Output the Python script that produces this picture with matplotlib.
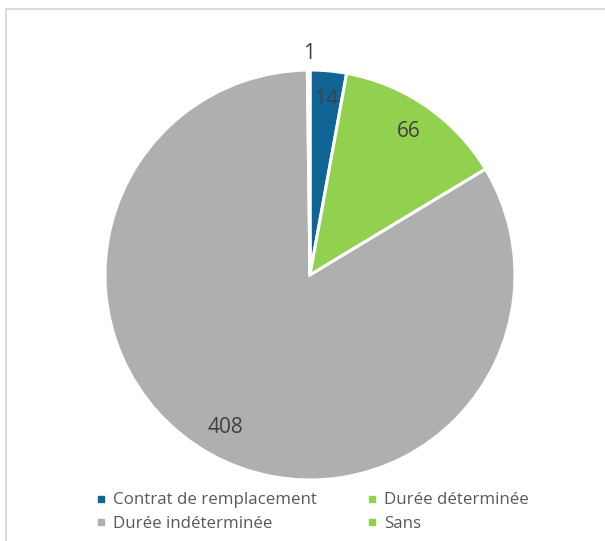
import matplotlib
matplotlib.use("Agg")
import matplotlib.pyplot as plt
from matplotlib.lines import Line2D
from matplotlib.patches import Rectangle
import numpy as np

categories = ["Contrat de remplacement", "Durée déterminée", "Durée indéterminée", "Sans"]
values = [14, 66, 408, 1]
colors = ["#106496", "#92D050", "#AFAFAF", "#92D050"]
label_dist = [0.86, 0.85, 0.85, 1.08]

plt.rcParams["font.family"] = ["Open Sans", "DejaVu Sans"]

W, H = 605, 541
fig = plt.figure(figsize=(W / 100, H / 100), dpi=100)

# chart frame (light gray border, open at right/bottom)
fig.add_artist(Rectangle((6 / W, -0.05), 1.1, (H - 9) / H + 0.05, transform=fig.transFigure,
                         fill=False, edgecolor="#D9D9D9", linewidth=1.3))

cx, cy, r = 310, 275, 205
ax = fig.add_axes([(cx - r) / W, (H - cy - r) / H, 2 * r / W, 2 * r / H])
wedges, _ = ax.pie(values, colors=colors, startangle=90, counterclock=False,
                   radius=1, wedgeprops=dict(edgecolor="white", linewidth=2.2))
ax.set_xlim(-1, 1)
ax.set_ylim(-1, 1)
ax.set_aspect("equal")
ax.axis("off")

for w, v, d in zip(wedges, values, label_dist):
    ang = np.deg2rad((w.theta1 + w.theta2) / 2)
    ax.text(d * np.cos(ang), d * np.sin(ang), str(v), ha="center", va="center",
            fontsize=15, color="#404040")

handles = [Line2D([], [], marker="s", linestyle="none", markersize=4.5,
                  markerfacecolor=c, markeredgecolor=c) for c in colors]
order = [0, 2, 1, 3]
fig.legend([handles[i] for i in order], [categories[i] for i in order],
           ncol=2, loc="center left", bbox_to_anchor=(90 / W, 1 - 512 / H),
           frameon=False, fontsize=12.2, labelcolor="#595959",
           handlelength=0.5, handletextpad=0.45, columnspacing=3.0,
           labelspacing=0.42, borderaxespad=0)

fig.savefig("out.png", dpi=100, facecolor="white")
